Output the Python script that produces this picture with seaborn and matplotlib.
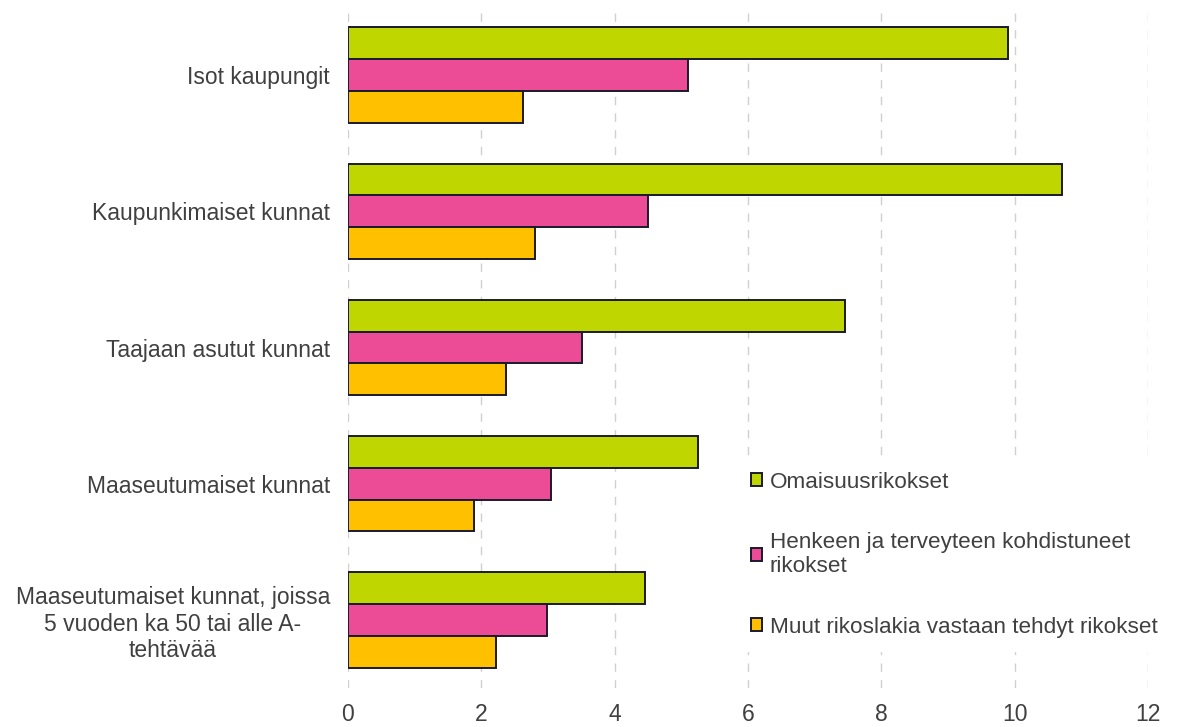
import pandas as pd
import matplotlib.pyplot as plt
import seaborn as sns

regions = [
    "Isot kaupungit",
    "Kaupunkimaiset kunnat",
    "Taajaan asutut kunnat",
    "Maaseutumaiset kunnat",
    "Maaseutumaiset kunnat, joissa\n5 vuoden ka 50 tai alle A-\ntehtävää",
]
crime_types = [
    "Omaisuusrikokset",
    "Henkeen ja terveyteen kohdistuneet\nrikokset",
    "Muut rikoslakia vastaan tehdyt rikokset",
]
property_crimes = [9.9, 10.71, 7.46, 5.25, 4.46]
violent_crimes = [5.1, 4.5, 3.51, 3.05, 2.99]
other_crimes = [2.62, 2.8, 2.37, 1.89, 2.22]
colors = ["#BFD600", "#EC4B96", "#FFC000"]

rows = []
for ctype, vals in zip(crime_types, [property_crimes, violent_crimes, other_crimes]):
    for reg, v in zip(regions, vals):
        rows.append({"region": reg, "type": ctype, "value": v})
df = pd.DataFrame(rows)

sns.set_style("white")
plt.rcParams["font.family"] = ["Liberation Sans", "DejaVu Sans"]

fig = plt.figure(figsize=(11.78, 7.27), dpi=100)
ax = fig.add_axes([348 / 1178, 1 - 688 / 727, 800 / 1178, 681 / 727])

sns.barplot(
    data=df, y="region", x="value", hue="type", order=regions,
    hue_order=crime_types, palette=colors, saturation=1, orient="h", width=0.7,
    edgecolor="#1a1a2e", linewidth=1.4, ax=ax, zorder=3,
)

ax.set_xlim(0, 12)
ax.set_xticks(range(0, 13, 2))
ax.set_xlabel("")
ax.set_ylabel("")
for x in range(0, 13, 2):
    ax.axvline(x, color="#D0D0D0", linewidth=1.0, linestyle=(0, (6, 6)), zorder=0)
for s in ax.spines.values():
    s.set_visible(False)
ax.tick_params(axis="both", length=0, labelsize=16.5, colors="#404040")
ax.tick_params(axis="x", pad=11)
ax.tick_params(axis="y", pad=13)
for lbl in ax.get_yticklabels():
    lbl.set_multialignment("center")

handles, labels = ax.get_legend_handles_labels()
leg = ax.legend(
    handles, labels, loc="upper left", bbox_to_anchor=(726 / 1178, 1 - 447 / 727),
    bbox_transform=fig.transFigure, frameon=True, framealpha=1, edgecolor="white",
    fontsize=16.2, handlelength=0.5, handleheight=0.5, handletextpad=0.35,
    labelspacing=1.75, borderpad=0.6, fancybox=False,
)
for t in leg.get_texts():
    t.set_color("#404040")
leg.set_zorder(5)

fig.savefig("out.png", dpi=100)
